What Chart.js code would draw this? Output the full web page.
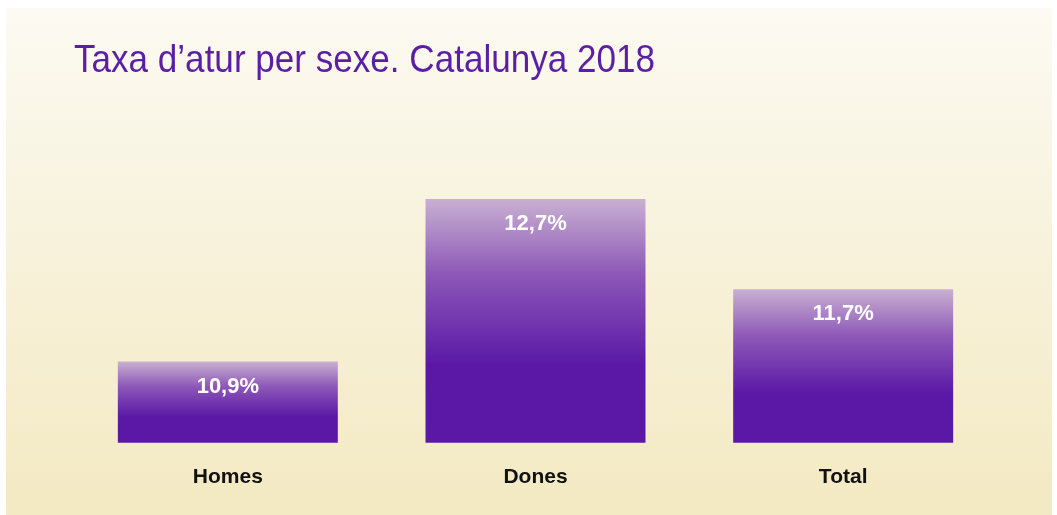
<!DOCTYPE html>
<html>
<head>
<meta charset="utf-8">
<script src="https://cdn.jsdelivr.net/npm/chart.js@4/dist/chart.umd.min.js"></script>
<style>
  html, body { margin: 0; padding: 0; background: #ffffff; }
  canvas { display: block; }
</style>
</head>
<body>
<canvas id="aturChart" width="1057" height="515"></canvas>
<script>
const categories = ["Homes", "Dones", "Total"];
const taxaAtur = [10.9, 12.7, 11.7];
const titleText = "Taxa d\u2019atur per sexe. Catalunya 2018";

// panel background (cream gradient) + condensed title
const panelBg = {
  id: "panelBg",
  beforeDraw(chart) {
    const c = chart.ctx;
    const g = c.createLinearGradient(0, 8, 0, 515);
    g.addColorStop(0, "#fcfaf2");
    g.addColorStop(1, "#f3e9c2");
    c.save();
    c.fillStyle = g;
    c.fillRect(6, 8, 1046, 507);

    // title, squeezed to look like a condensed face
    c.font = "39px 'Liberation Sans', Arial, sans-serif";
    c.fillStyle = "#5b1ea6";
    c.textBaseline = "alphabetic";
    const w = c.measureText(titleText).width;
    c.translate(74, 72);
    c.scale(581 / w, 1);
    c.fillText(titleText, 0, 0);
    c.restore();
  }
};

// value labels inside bars
const valueLabels = {
  id: "valueLabels",
  afterDatasetsDraw(chart) {
    const c = chart.ctx;
    const meta = chart.getDatasetMeta(0);
    c.save();
    c.fillStyle = "#ffffff";
    c.font = "bold 22px 'Liberation Sans', Arial, sans-serif";
    c.textAlign = "center";
    c.textBaseline = "middle";
    meta.data.forEach((bar, i) => {
      const txt = taxaAtur[i].toFixed(1).replace(".", ",") + "%";
      c.fillText(txt, bar.x, bar.y + 25);
    });
    c.restore();
  }
};

function barGradient(context) {
  const chart = context.chart;
  const y = chart.scales.y;
  if (!y || !chart.chartArea) return "#5b18a6";
  const top = y.getPixelForValue(taxaAtur[context.dataIndex]);
  const bottom = y.getPixelForValue(y.min);
  const g = chart.ctx.createLinearGradient(0, top, 0, top + (bottom - top) * 0.68);
  g.addColorStop(0, "#c9b0d2");
  g.addColorStop(0.45, "#8d58b8");
  g.addColorStop(1, "#5b18a6");
  return g;
}

new Chart(document.getElementById("aturChart").getContext("2d"), {
  type: "bar",
  data: {
    labels: categories,
    datasets: [{
      data: taxaAtur,
      backgroundColor: barGradient,
      borderWidth: 0,
      barPercentage: 0.715,
      categoryPercentage: 1
    }]
  },
  options: {
    responsive: false,
    animation: false,
    layout: { padding: { left: 74, right: 60, top: 172, bottom: 11 } },
    plugins: {
      legend: { display: false },
      tooltip: { enabled: false },
      title: { display: false }
    },
    scales: {
      y: { display: false, min: 10, max: 13 },
      x: {
        grid: { display: false },
        border: { display: false },
        ticks: {
          color: "#111111",
          padding: 14,
          font: { family: "'Liberation Sans', Arial, sans-serif", size: 21, weight: "bold" }
        }
      }
    }
  },
  plugins: [panelBg, valueLabels]
});
</script>
</body>
</html>
